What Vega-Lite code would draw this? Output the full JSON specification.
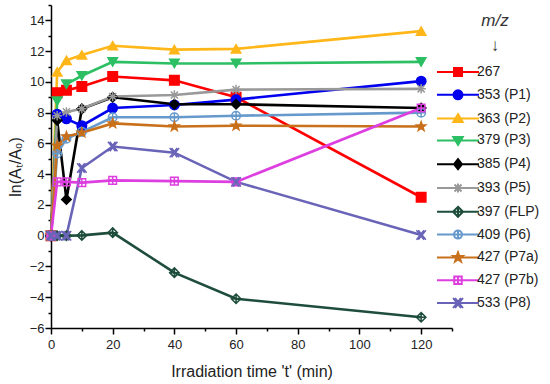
{
  "$schema": "https://vega.github.io/schema/vega-lite/v6.json",
  "width": 401,
  "height": 323,
  "autosize": {"type": "none"},
  "padding": {"left": 51, "top": 5, "right": 98, "bottom": 56},
  "background": "white",
  "config": {
    "view": {"stroke": null},
    "font": "Liberation Sans",
    "axis": {"domainColor": "#000", "domainWidth": 1.5, "tickColor": "#000", "tickWidth": 1.5, "labelColor": "#222", "titleColor": "#222", "labelFont": "Liberation Sans", "titleFont": "Liberation Sans", "titleFontWeight": "normal", "grid": false}
  },
  "datasets": {
    "d": [
      {"s": "267", "t": 0, "v": 0}, {"s": "267", "t": 2, "v": 9.3}, {"s": "267", "t": 5, "v": 9.45}, {"s": "267", "t": 10, "v": 9.7}, {"s": "267", "t": 20, "v": 10.35}, {"s": "267", "t": 40, "v": 10.1}, {"s": "267", "t": 60, "v": 9.0}, {"s": "267", "t": 120, "v": 2.5},
      {"s": "353 (P1)", "t": 0, "v": 0}, {"s": "353 (P1)", "t": 2, "v": 7.9}, {"s": "353 (P1)", "t": 5, "v": 7.6}, {"s": "353 (P1)", "t": 10, "v": 7.15}, {"s": "353 (P1)", "t": 20, "v": 8.3}, {"s": "353 (P1)", "t": 40, "v": 8.5}, {"s": "353 (P1)", "t": 60, "v": 8.85}, {"s": "353 (P1)", "t": 120, "v": 10.05},
      {"s": "363 (P2)", "t": 0, "v": 0}, {"s": "363 (P2)", "t": 2, "v": 10.65}, {"s": "363 (P2)", "t": 5, "v": 11.4}, {"s": "363 (P2)", "t": 10, "v": 11.75}, {"s": "363 (P2)", "t": 20, "v": 12.35}, {"s": "363 (P2)", "t": 40, "v": 12.1}, {"s": "363 (P2)", "t": 60, "v": 12.15}, {"s": "363 (P2)", "t": 120, "v": 13.3},
      {"s": "379 (P3)", "t": 0, "v": 0}, {"s": "379 (P3)", "t": 2, "v": 8.75}, {"s": "379 (P3)", "t": 5, "v": 9.85}, {"s": "379 (P3)", "t": 10, "v": 10.4}, {"s": "379 (P3)", "t": 20, "v": 11.3}, {"s": "379 (P3)", "t": 40, "v": 11.2}, {"s": "379 (P3)", "t": 60, "v": 11.2}, {"s": "379 (P3)", "t": 120, "v": 11.3},
      {"s": "385 (P4)", "t": 0, "v": 0}, {"s": "385 (P4)", "t": 2, "v": 7.5}, {"s": "385 (P4)", "t": 5, "v": 2.35}, {"s": "385 (P4)", "t": 10, "v": 8.25}, {"s": "385 (P4)", "t": 20, "v": 9.0}, {"s": "385 (P4)", "t": 40, "v": 8.55}, {"s": "385 (P4)", "t": 60, "v": 8.55}, {"s": "385 (P4)", "t": 120, "v": 8.3},
      {"s": "393 (P5)", "t": 0, "v": 0}, {"s": "393 (P5)", "t": 2, "v": 7.8}, {"s": "393 (P5)", "t": 5, "v": 8.05}, {"s": "393 (P5)", "t": 10, "v": 8.25}, {"s": "393 (P5)", "t": 20, "v": 9.05}, {"s": "393 (P5)", "t": 40, "v": 9.15}, {"s": "393 (P5)", "t": 60, "v": 9.5}, {"s": "393 (P5)", "t": 120, "v": 9.55},
      {"s": "397 (FLP)", "t": 0, "v": 0}, {"s": "397 (FLP)", "t": 2, "v": 0}, {"s": "397 (FLP)", "t": 5, "v": 0}, {"s": "397 (FLP)", "t": 10, "v": 0.02}, {"s": "397 (FLP)", "t": 20, "v": 0.2}, {"s": "397 (FLP)", "t": 40, "v": -2.4}, {"s": "397 (FLP)", "t": 60, "v": -4.1}, {"s": "397 (FLP)", "t": 120, "v": -5.3},
      {"s": "409 (P6)", "t": 0, "v": 0}, {"s": "409 (P6)", "t": 2, "v": 5.35}, {"s": "409 (P6)", "t": 5, "v": 6.3}, {"s": "409 (P6)", "t": 10, "v": 6.75}, {"s": "409 (P6)", "t": 20, "v": 7.7}, {"s": "409 (P6)", "t": 40, "v": 7.7}, {"s": "409 (P6)", "t": 60, "v": 7.8}, {"s": "409 (P6)", "t": 120, "v": 8.0},
      {"s": "427 (P7a)", "t": 0, "v": 0}, {"s": "427 (P7a)", "t": 2, "v": 5.85}, {"s": "427 (P7a)", "t": 5, "v": 6.45}, {"s": "427 (P7a)", "t": 10, "v": 6.7}, {"s": "427 (P7a)", "t": 20, "v": 7.3}, {"s": "427 (P7a)", "t": 40, "v": 7.1}, {"s": "427 (P7a)", "t": 60, "v": 7.15}, {"s": "427 (P7a)", "t": 120, "v": 7.1},
      {"s": "427 (P7b)", "t": 0, "v": 0}, {"s": "427 (P7b)", "t": 2, "v": 3.5}, {"s": "427 (P7b)", "t": 5, "v": 3.5}, {"s": "427 (P7b)", "t": 10, "v": 3.45}, {"s": "427 (P7b)", "t": 20, "v": 3.6}, {"s": "427 (P7b)", "t": 40, "v": 3.55}, {"s": "427 (P7b)", "t": 60, "v": 3.5}, {"s": "427 (P7b)", "t": 120, "v": 8.3},
      {"s": "533 (P8)", "t": 0, "v": 0}, {"s": "533 (P8)", "t": 2, "v": 0}, {"s": "533 (P8)", "t": 5, "v": 0}, {"s": "533 (P8)", "t": 10, "v": 4.4}, {"s": "533 (P8)", "t": 20, "v": 5.8}, {"s": "533 (P8)", "t": 40, "v": 5.4}, {"s": "533 (P8)", "t": 60, "v": 3.5}, {"s": "533 (P8)", "t": 120, "v": 0.05}
    ]
  },
  "data": {"name": "d"},
  "encoding": {
    "x": {
      "field": "t", "type": "quantitative",
      "scale": {"domain": [0, 130], "nice": false, "zero": false},
      "axis": {
        "values": [0, 10, 20, 30, 40, 50, 60, 70, 80, 90, 100, 110, 120, 130],
        "labelExpr": "datum.value % 20 === 0 && datum.value <= 120 ? datum.label : ''",
        "tickSize": {"condition": {"test": "datum.value % 20 === 0", "value": 6}, "value": 3},
        "labelFontSize": 13, "labelPadding": 4, "labelFlush": false,
        "title": "Irradiation time 't' (min)", "titleFontSize": 16, "titlePadding": 12
      }
    },
    "y": {
      "field": "v", "type": "quantitative",
      "scale": {"domain": [-6, 15], "nice": false, "zero": false},
      "axis": {
        "values": [-6, -5, -4, -3, -2, -1, 0, 1, 2, 3, 4, 5, 6, 7, 8, 9, 10, 11, 12, 13, 14, 15],
        "labelExpr": "datum.value % 2 === 0 && datum.value <= 14 ? datum.label : ''",
        "tickSize": {"condition": {"test": "datum.value % 2 === 0", "value": 6}, "value": 3},
        "labelFontSize": 13, "labelPadding": 1, "labelFlush": false,
        "title": "ln(Aₜ/A₀)", "titleFontSize": 16, "titlePadding": 6
      }
    },
    "color": {"field": "s", "type": "nominal",
      "scale": {"domain": ["267", "353 (P1)", "363 (P2)", "379 (P3)", "385 (P4)", "393 (P5)", "397 (FLP)", "409 (P6)", "427 (P7a)", "427 (P7b)", "533 (P8)"],
        "range": ["#ff0000", "#0000ee", "#ffb619", "#2dbf63", "#000000", "#999999", "#1e4d3c", "#6699cc", "#c8701a", "#dd3ee0", "#6a64b8"]},
      "legend": null}
  },
  "layer": [
    {
      "mark": {"type": "line", "strokeWidth": 2.6}
    },
    {
      "mark": {"type": "point", "filled": false, "size": 90, "strokeWidth": 1.5, "opacity": 1},
      "encoding": {
        "shape": {"field": "s", "type": "nominal", "legend": null,
          "scale": {"domain": ["267", "353 (P1)", "363 (P2)", "379 (P3)", "385 (P4)", "393 (P5)", "397 (FLP)", "409 (P6)", "427 (P7a)", "427 (P7b)", "533 (P8)"],
            "range": ["square", "circle", "triangle-up", "triangle-down", "diamond",
              "M-1,0H1M0,-1V1M-0.75,-0.75L0.75,0.75M-0.75,0.75L0.75,-0.75",
              "M0,-1L1,0L0,1L-1,0ZM-1,0H1M0,-1V1",
              "M-0.9,0A0.9,0.9,0,1,1,0.9,0A0.9,0.9,0,1,1,-0.9,0ZM-0.9,0H0.9M0,-0.9V0.9",
              "M0,-1L0.24,-0.33L0.95,-0.31L0.38,0.12L0.59,0.81L0,0.4L-0.59,0.81L-0.38,0.12L-0.95,-0.31L-0.24,-0.33Z",
              "M-0.8,-0.8H0.8V0.8H-0.8ZM-0.8,0H0.8M0,-0.8V0.8",
              "M-1,-1L0.6,1M-0.6,-1L1,1M-1,1L0.6,-1M-0.6,1L1,-1"]}},
        "fill": {"field": "s", "type": "nominal", "legend": null,
          "scale": {"domain": ["267", "353 (P1)", "363 (P2)", "379 (P3)", "385 (P4)", "393 (P5)", "397 (FLP)", "409 (P6)", "427 (P7a)", "427 (P7b)", "533 (P8)"],
            "range": ["#ff0000", "#0000ee", "#ffb619", "#2dbf63", "#000000", "transparent", "transparent", "transparent", "#c8701a", "transparent", "transparent"]}}
      }
    },
    {
      "transform": [{"filter": "datum.t < 0"}],
      "mark": {"type": "point", "filled": false, "size": 100, "strokeWidth": 2, "opacity": 1},
      "encoding": {
        "color": {"field": "s", "type": "nominal",
          "scale": {"domain": ["267", "353 (P1)", "363 (P2)", "379 (P3)", "385 (P4)", "393 (P5)", "397 (FLP)", "409 (P6)", "427 (P7a)", "427 (P7b)", "533 (P8)"],
            "range": ["#ff0000", "#0000ee", "#ffb619", "#2dbf63", "#000000", "#999999", "#1e4d3c", "#6699cc", "#c8701a", "#dd3ee0", "#6a64b8"]},
          "legend": {
            "orient": "none", "legendX": 400, "legendY": 8, "padding": 0,
            "title": ["m/z", "↓"], "titleFontStyle": "italic", "titleFontWeight": "normal", "titleFontSize": 17, "titleColor": "#333", "titleAnchor": "middle", "titleLineHeight": 25, "titlePadding": 10,
            "labelFontSize": 14, "labelColor": "#222", "labelOffset": 12,
            "symbolSize": 100, "symbolStrokeWidth": 2, "rowPadding": 5.8
          }},
        "fill": {"field": "s", "type": "nominal",
          "scale": {"domain": ["267", "353 (P1)", "363 (P2)", "379 (P3)", "385 (P4)", "393 (P5)", "397 (FLP)", "409 (P6)", "427 (P7a)", "427 (P7b)", "533 (P8)"],
            "range": ["#ff0000", "#0000ee", "#ffb619", "#2dbf63", "#000000", "transparent", "transparent", "transparent", "#c8701a", "transparent", "transparent"]}},
        "shape": {"field": "s", "type": "nominal",
          "scale": {"domain": ["267", "353 (P1)", "363 (P2)", "379 (P3)", "385 (P4)", "393 (P5)", "397 (FLP)", "409 (P6)", "427 (P7a)", "427 (P7b)", "533 (P8)"],
            "range": [
              "M-4.2,0H4.2M-0.8,-0.8H0.8V0.8H-0.8Z",
              "M-4.2,0H4.2M-0.9,0A0.9,0.9,0,1,1,0.9,0A0.9,0.9,0,1,1,-0.9,0Z",
              "M-4.2,0H4.2M0,-0.9L0.95,0.7H-0.95Z",
              "M-4.2,0H4.2M0,0.9L0.95,-0.7H-0.95Z",
              "M-4.2,0H4.2M0,-1L0.8,0L0,1L-0.8,0Z",
              "M-4.2,0H4.2M0,-0.9V0.9M-0.7,-0.7L0.7,0.7M-0.7,0.7L0.7,-0.7",
              "M-4.2,0H4.2M0,-1L1,0L0,1L-1,0ZM0,-1V1",
              "M-4.2,0H4.2M-0.8,0A0.8,0.8,0,1,1,0.8,0A0.8,0.8,0,1,1,-0.8,0ZM0,-0.8V0.8",
              "M-4.2,0H4.2M0,-1L0.24,-0.33L0.95,-0.31L0.38,0.12L0.59,0.81L0,0.4L-0.59,0.81L-0.38,0.12L-0.95,-0.31L-0.24,-0.33Z",
              "M-4.2,0H4.2M-0.75,-0.75H0.75V0.75H-0.75ZM0,-0.75V0.75",
              "M-4.2,0H4.2M-1,-1L0.6,1M-0.6,-1L1,1M-1,1L0.6,-1M-0.6,1L1,-1"
            ]}}
      }
    }
  ],
  "resolve": {
    "scale": {"color": "independent", "shape": "independent", "fill": "independent"},
    "legend": {"color": "independent", "shape": "independent", "fill": "independent"}
  }
}
